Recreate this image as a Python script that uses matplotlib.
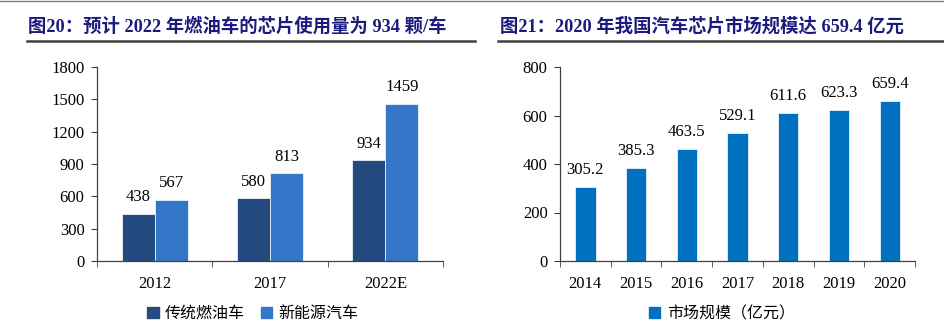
import matplotlib
matplotlib.use("Agg")
import matplotlib.pyplot as plt
from matplotlib.lines import Line2D
from matplotlib.patches import Patch
import numpy as np

plt.rcParams['font.family'] = ['Liberation Serif', 'Noto Sans CJK SC']
plt.rcParams['axes.unicode_minus'] = False

# chips per vehicle
years_a = ['2012', '2017', '2022E']
fuel = [438, 580, 934]
nev = [567, 813, 1459]

# China auto chip market size (100M yuan)
years_b = ['2014', '2015', '2016', '2017', '2018', '2019', '2020']
market = [305.2, 385.3, 463.5, 529.1, 611.6, 623.3, 659.4]

title_a = '图20：预计 2022 年燃油车的芯片使用量为 934 颗/车'
title_b = '图21：2020 年我国汽车芯片市场规模达 659.4 亿元'

C_DARK = '#234b7f'
C_LIGHT = '#3476c7'
C_BLUE = '#0070c0'
TITLE_C = '#1b1b7e'
FS = 12
W, H = 944, 326

fig = plt.figure(figsize=(W / 100, H / 100), dpi=100)

def fx(px):
    return px / W

def fy(py):
    return 1 - py / H

# top border and title underlines
fig.add_artist(Line2D([0, 1], [fy(1), fy(1)], color='#808080', lw=1.0))
fig.add_artist(Line2D([fx(27), fx(475)], [fy(41), fy(41)], color='#404040', lw=1.8))
fig.add_artist(Line2D([fx(498), fx(944)], [fy(41), fy(41)], color='#404040', lw=1.8))
fig.text(fx(28), fy(26), title_a, color=TITLE_C, fontsize=13.2, fontweight='bold',
         va='center', ha='left')
fig.text(fx(500), fy(26), title_b, color=TITLE_C, fontsize=13.2, fontweight='bold',
         va='center', ha='left')


def style_axes(ax, n):
    for s in ['top', 'right']:
        ax.spines[s].set_visible(False)
    for s in ['left', 'bottom']:
        ax.spines[s].set_color('#404040')
        ax.spines[s].set_linewidth(0.9)
    ax.set_xlim(-0.5, n - 0.5)
    ax.set_xticks(np.arange(n))
    ax.tick_params(axis='x', length=0, labelsize=FS, pad=11, colors='black')
    ax.set_xticks(np.arange(n + 1) - 0.5, minor=True)
    ax.tick_params(axis='x', which='minor', length=4, direction='out', color='#404040')
    ax.tick_params(axis='y', length=4, direction='out', labelsize=FS, color='#404040', pad=5)


def label(ax, xv, v, txt):
    ax.annotate(txt, (xv, v), xytext=(0, 12), textcoords='offset points',
                ha='center', va='center', fontsize=FS)


# left chart
ax1 = fig.add_axes([fx(97), fy(261), fx(443 - 97), fy(67) - fy(261)])
x = np.arange(len(years_a))
bw = 0.286
ax1.bar(x - bw / 2, fuel, bw, color=C_DARK, edgecolor='white', linewidth=0.5)
ax1.bar(x + bw / 2, nev, bw, color=C_LIGHT, edgecolor='white', linewidth=0.5)
for xi, v in zip(x, fuel):
    label(ax1, xi - bw / 2, v, str(v))
for xi, v in zip(x, nev):
    label(ax1, xi + bw / 2, v, str(v))
ax1.set_ylim(0, 1800)
ax1.set_yticks(np.arange(0, 1801, 300))
style_axes(ax1, len(years_a))
ax1.set_xticklabels(years_a)

fig.legend(handles=[Patch(color=C_DARK, label='传统燃油车'),
                    Patch(color=C_LIGHT, label='新能源汽车')],
           loc='center', bbox_to_anchor=(fx(253), fy(314)), ncol=2, frameon=False,
           fontsize=11.5, handlelength=0.7, handleheight=0.7, handletextpad=0.4,
           columnspacing=1.0)

# right chart
ax2 = fig.add_axes([fx(560), fy(261), fx(915 - 560), fy(67) - fy(261)])
xb = np.arange(len(years_b))
ax2.bar(xb, market, 0.4, color=C_BLUE, edgecolor='white', linewidth=0.5)
for xi, v in zip(xb, market):
    label(ax2, xi, v, f'{v:.1f}')
ax2.set_ylim(0, 800)
ax2.set_yticks(np.arange(0, 801, 200))
style_axes(ax2, len(years_b))
ax2.set_xticklabels(years_b)

fig.legend(handles=[Patch(color=C_BLUE, label='市场规模（亿元）')],
           loc='center', bbox_to_anchor=(fx(722), fy(314)), frameon=False,
           fontsize=11.5, handlelength=0.7, handleheight=0.7, handletextpad=0.4)

fig.savefig('out.png', dpi=100)
